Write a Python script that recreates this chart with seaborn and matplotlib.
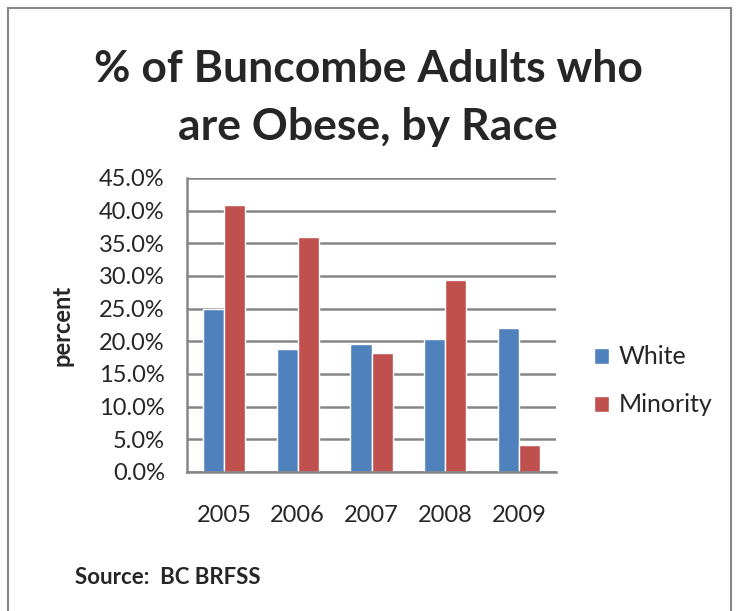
import pandas as pd
import matplotlib.pyplot as plt
import matplotlib.patches as mpatches
from matplotlib.ticker import FuncFormatter
import seaborn as sns

years = ["2005", "2006", "2007", "2008", "2009"]
white = [25.0, 18.8, 19.6, 20.4, 22.0]
minority = [40.9, 36.0, 18.2, 29.4, 4.2]
groups = ["White", "Minority"]
colors = ["#4F81BD", "#C0504D"]

df = pd.DataFrame({
    "year": years * 2,
    "value": white + minority,
    "group": [groups[0]] * len(years) + [groups[1]] * len(years),
})

sns.set_style("white")
plt.rcParams["font.family"] = ["Lato", "DejaVu Sans"]

fig = plt.figure(figsize=(7.36, 6.11), dpi=100)
ax = fig.add_axes([187 / 736, 1 - 472 / 611, (556 - 187) / 736, (472 - 178) / 611])

sns.barplot(data=df, x="year", y="value", hue="group", palette=colors,
            width=0.57, saturation=1, ax=ax, legend=True)

ax.set_ylim(0, 45)
ax.set_yticks(range(0, 46, 5))
ax.yaxis.set_major_formatter(FuncFormatter(lambda v, p: f"{v:.1f}%"))
ax.yaxis.grid(True, color="#868686", linewidth=1.8)
ax.set_axisbelow(True)
for s in ["top", "right"]:
    ax.spines[s].set_visible(False)
for s in ["left", "bottom"]:
    ax.spines[s].set_color("#868686")
    ax.spines[s].set_linewidth(1.8)
ax.tick_params(axis="y", length=5, color="#868686", width=1.5, labelsize=17, pad=11)
ax.tick_params(axis="x", length=0, labelsize=17, pad=24)
ax.set_xlabel(None)
ax.set_ylabel("percent", fontsize=17, fontweight="bold", labelpad=18)

ax.legend(loc="center left", bbox_to_anchor=(594 / 736, 1 - 381 / 611),
          bbox_transform=fig.transFigure, frameon=False, fontsize=18,
          handlelength=0.6, handleheight=0.6, labelspacing=1.0,
          handletextpad=0.4, borderaxespad=0, borderpad=0)

fig.text(0.5, 1 - 98 / 611, "% of Buncombe Adults who\nare Obese, by Race",
         ha="center", va="center", fontsize=32, fontweight="bold", linespacing=1.55)
fig.text(75 / 736, 1 - 578 / 611, "Source:  BC BRFSS", ha="left", va="center",
         fontsize=16, fontweight="bold")

fig.patches.append(mpatches.Rectangle((8 / 736, -0.01), (731 - 8) / 736, 1 - 8 / 611 + 0.01,
                                      transform=fig.transFigure, fill=False,
                                      edgecolor="#868686", linewidth=1.5))

fig.savefig("out.png", dpi=100)
